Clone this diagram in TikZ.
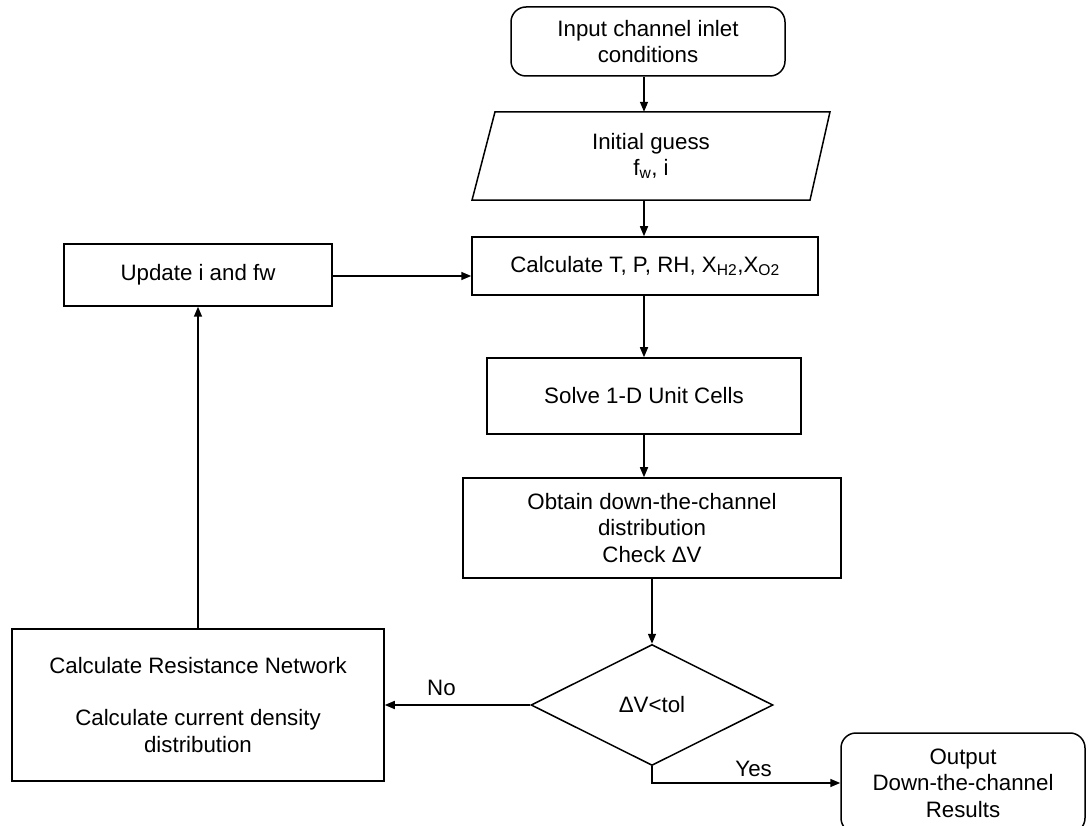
\documentclass[tikz,border=0pt]{standalone}
\usepackage{fontspec}
\setmainfont{Liberation Sans}
\usetikzlibrary{arrows.meta,shapes.geometric}

\begin{document}
\begin{tikzpicture}[x=1pt,y=-1pt,
  every node/.style={font=\fontsize{22.3}{26.5}\selectfont, align=center, inner sep=0pt},
  box/.style={draw=black, line width=1.5pt, rectangle},
  roundbox/.style={box, rounded corners=15pt},
  outline/.style={draw=black, line width=1.5pt, line join=miter},
  decision/.style={draw=black, line width=1.5pt, diamond, aspect=2, inner sep=0pt},
  arr/.style={line width=1.5pt, -{Triangle[length=10pt,width=8pt]}},
  lbl/.style={font=\fontsize{22.3}{26.5}\selectfont}
]
\useasboundingbox (0,0) rectangle (1088,826);
\fill[white] (0,0) rectangle (1088,826);

% main column
\coordinate (col) at (644,0);

\node[roundbox, minimum width=274pt, minimum height=69pt] (inlet) at (648,41.5)
  {Input channel inlet\\conditions};

% slanted input/output block
\node[minimum width=338pt, minimum height=88pt] (guess) at (651,156)
  {Initial guess\\f\textsubscript{w}, i};
\draw[outline] ([xshift=-179pt]guess.south) -- ([xshift=159pt]guess.south)
  -- ([xshift=179pt]guess.north) -- ([xshift=-156pt]guess.north) -- cycle;

\node[box, minimum width=346pt, minimum height=58pt] (calc) at (645,266)
  {Calculate T, P, RH, X\textsubscript{H2},X\textsubscript{O2}};
\node[box, minimum width=314pt, minimum height=76pt] (solve) at (644,396)
  {Solve 1-D Unit Cells};
\node[box, minimum width=378pt, minimum height=100pt] (obtain) at (652,528)
  {Obtain down-the-channel\\distribution\\Check \symbol{"0394}V};
\node[decision, minimum width=242pt, minimum height=121pt] (check) at (652,705)
  {\symbol{"0394}V<tol};
\node[box, minimum width=372pt, minimum height=152pt] (network) at (198,705)
  {Calculate Resistance Network\\[26pt]Calculate current density\\distribution};
\node[box, minimum width=268pt, minimum height=62pt] (update) at (198,275)
  {Update i and fw};
\node[roundbox, minimum width=244pt, minimum height=100pt] (output) at (963,783)
  {Output\\Down-the-channel\\Results};

% connectors
\draw[arr] (inlet.south -| col) -- (guess.north -| col);
\draw[arr] (guess.south -| col) -- (calc.north -| col);
\draw[arr] (calc.south -| col) -- (solve.north -| col);
\draw[arr] (solve.south -| col) -- (obtain.north -| col);
\draw[arr] (obtain.south) -- (check.north);
\draw[arr] (check.west) -- node[lbl, above=9pt, pos=0.61] (nolbl) {No} (network.east);
\draw[arr] (network.north) -- (update.south);
\coordinate (upd) at ([yshift=-1pt]update.east);
\draw[arr] (upd) -- (upd -| calc.west);
\draw[arr] (check.south) |- node[lbl, above=6pt, pos=0.77] (yeslbl) {Yes} (output.west);
\end{tikzpicture}
\end{document}
